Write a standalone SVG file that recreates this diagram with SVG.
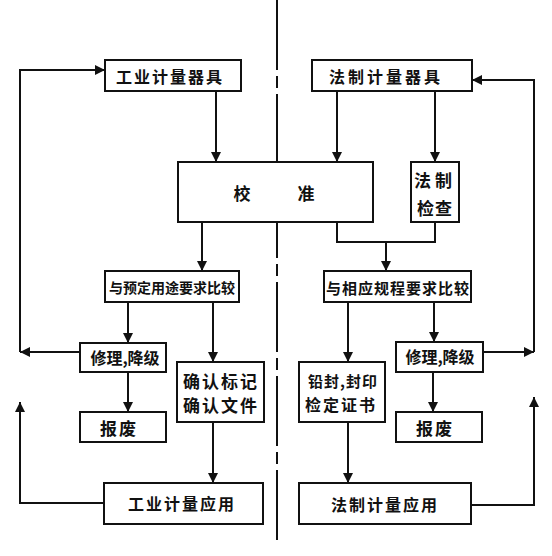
<svg xmlns="http://www.w3.org/2000/svg" width="552" height="556" viewBox="0 0 552 556">
<defs>
<marker id="ah" viewBox="0 0 10 10" refX="10" refY="5" markerWidth="10" markerHeight="10" markerUnits="userSpaceOnUse" orient="auto">
<path d="M0,0 L10,5 L0,10 Z" fill="#111"/>
</marker>
<style>
.box{fill:#fff;stroke:#111;stroke-width:2}
.ln{fill:none;stroke:#111;stroke-width:2}
.t{font-family:"Noto Sans CJK SC","Noto Sans CJK JP",sans-serif;font-weight:bold;fill:#111;text-anchor:middle;dominant-baseline:central}
</style>
</defs>
<rect width="552" height="556" fill="#fff"/>
<line x1="277" y1="0" x2="277" y2="544" stroke="#111" stroke-width="2" stroke-dasharray="70 6 12 6"/>
<g id="connectors" class="ln">
<line x1="216" y1="91" x2="216" y2="162" marker-end="url(#ah)"/>
<line x1="337" y1="91" x2="337" y2="162" marker-end="url(#ah)"/>
<line x1="435" y1="91" x2="435" y2="162" marker-end="url(#ah)"/>
<line x1="202" y1="222" x2="202" y2="271" marker-end="url(#ah)"/>
<polyline points="337,222 337,242 435,242 435,222"/>
<line x1="386" y1="242" x2="386" y2="271" marker-end="url(#ah)"/>
<line x1="128" y1="302" x2="128" y2="343" marker-end="url(#ah)"/>
<line x1="213" y1="302" x2="213" y2="362" marker-end="url(#ah)"/>
<line x1="128" y1="372" x2="128" y2="412" marker-end="url(#ah)"/>
<line x1="213" y1="422" x2="213" y2="483" marker-end="url(#ah)"/>
<line x1="80" y1="352" x2="20" y2="352" marker-end="url(#ah)"/>
<polyline points="20,352 20,70 105,70" marker-end="url(#ah)"/>
<polyline points="104,503 20,503 20,402" marker-end="url(#ah)"/>
<line x1="348" y1="302" x2="348" y2="362" marker-end="url(#ah)"/>
<line x1="434" y1="302" x2="434" y2="342" marker-end="url(#ah)"/>
<line x1="433" y1="372" x2="433" y2="412" marker-end="url(#ah)"/>
<line x1="348" y1="422" x2="348" y2="483" marker-end="url(#ah)"/>
<line x1="483" y1="352" x2="534" y2="352" marker-end="url(#ah)"/>
<polyline points="534,352 534,80 472,80" marker-end="url(#ah)"/>
<polyline points="471,505 534,505 534,397" marker-end="url(#ah)"/>
</g>
<g id="n1"><rect class="box" x="105" y="60" width="136" height="31"/><text class="t" x="170" y="76" font-size="16" letter-spacing="2">工业计量器具</text></g>
<g id="n2"><rect class="box" x="312" y="60" width="160" height="31"/><text class="t" x="386" y="76" font-size="16" letter-spacing="3">法制计量器具</text></g>
<g id="n3"><rect class="box" x="178" y="162" width="195" height="60"/><text class="t" x="242" y="192" font-size="17">校</text><text class="t" x="306" y="192" font-size="17">准</text></g>
<g id="n4"><rect class="box" x="411" y="162" width="48" height="60"/><text class="t" x="435" y="179" font-size="17" letter-spacing="4">法制</text><text class="t" x="435" y="207" font-size="17" letter-spacing="1">检查</text></g>
<g id="n5"><rect class="box" x="105" y="271" width="134" height="31"/><text class="t" x="172" y="287" font-size="14">与预定用途要求比较</text></g>
<g id="n6"><rect class="box" x="324" y="271" width="147" height="31"/><text class="t" x="398" y="287" font-size="15" letter-spacing="1">与相应规程要求比较</text></g>
<g id="n7"><rect class="box" x="80" y="343" width="86" height="29"/><text class="t" x="125" y="357" font-size="16">修理,降级</text></g>
<g id="n8"><rect class="box" x="177" y="362" width="87" height="60"/><text class="t" x="221" y="380" font-size="17" letter-spacing="2">确认标记</text><text class="t" x="221" y="404" font-size="17" letter-spacing="2">确认文件</text></g>
<g id="n9"><rect class="box" x="80" y="412" width="86" height="30"/><text class="t" x="119" y="427" font-size="17" letter-spacing="2">报废</text></g>
<g id="n10"><rect class="box" x="104" y="483" width="159" height="41"/><text class="t" x="182" y="503" font-size="16" letter-spacing="2">工业计量应用</text></g>
<g id="n11"><rect class="box" x="299" y="362" width="86" height="60"/><text class="t" x="343" y="380" font-size="15" letter-spacing="1">铅封,封印</text><text class="t" x="341" y="404" font-size="16" letter-spacing="2">检定证书</text></g>
<g id="n12"><rect class="box" x="396" y="342" width="87" height="30"/><text class="t" x="440" y="356" font-size="16">修理,降级</text></g>
<g id="n13"><rect class="box" x="396" y="412" width="86" height="30"/><text class="t" x="435" y="427" font-size="17" letter-spacing="2">报废</text></g>
<g id="n14"><rect class="box" x="299" y="483" width="172" height="41"/><text class="t" x="385" y="504" font-size="16" letter-spacing="2">法制计量应用</text></g>
</svg>
